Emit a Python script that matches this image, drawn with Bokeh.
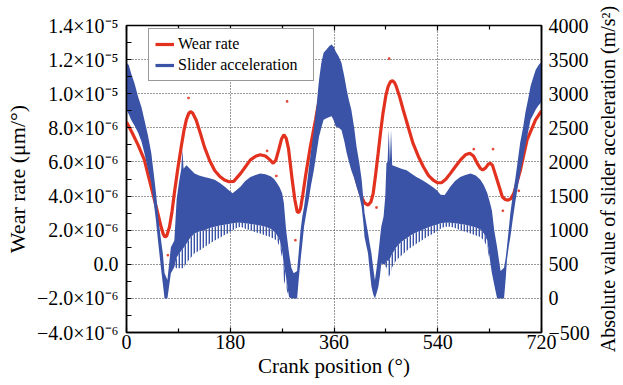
from bokeh.plotting import figure
from bokeh.layouts import row
from bokeh.models import (Range1d, LinearAxis, FixedTicker, CustomJSTickFormatter,
                          Legend, LegendItem, ColumnDataSource)
from bokeh.embed import file_html
from bokeh.resources import INLINE

FONT = "Liberation Serif"
RED = "#e2321f"
BLUE = "#3a53a6"

# ---------------- data ----------------
# wear rate (units of 1e-6 um/deg)
wear_crank = [0, 10, 20, 31, 40, 48.6, 55, 60, 64, 67, 70, 74.6, 79, 83, 89, 95, 100, 104, 108, 111,
              115, 121, 128, 135, 144, 153, 162, 170, 178, 186, 198, 207, 215, 224, 232, 241, 248,
              254.5, 259, 264, 269, 273, 277, 281, 287.5, 292, 296, 299, 302, 306, 310.5, 319, 328,
              332, 340, 350, 360, 368, 376, 387.5, 399, 407.7, 413, 419, 424, 428, 432, 436.6, 441,
              445, 450, 454, 458, 461.5, 465, 468, 474, 480, 497, 506, 515, 524, 532, 540, 546.5,
              554, 562, 571, 579.5, 588, 595.6, 602, 608.5, 614, 618, 623, 628, 631.5, 635, 643,
              652, 657, 662, 667, 672, 683.5, 695, 709.6, 720]
wear_e6 = [8.35, 7.7, 7.0, 6.12, 4.9, 3.76, 2.9, 2.2, 1.75, 1.6, 1.68, 2.2, 3.1, 4.16, 5.6, 6.9, 7.9,
           8.5, 8.85, 8.96, 8.85, 8.45, 7.7, 6.9, 6.1, 5.5, 5.15, 4.94, 4.84, 4.86, 5.33, 5.75, 6.12,
           6.33, 6.42, 6.35, 6.15, 5.92, 6.1, 6.7, 7.35, 7.6, 7.4, 6.8, 4.94, 3.8, 3.1, 3.02, 3.27,
           4.1, 5.14, 6.9, 8.47, 9.25, 10.0, 10.3, 9.9, 9.1, 8.08, 6.51, 4.94, 3.96, 3.6, 3.47, 3.65,
           4.16, 5.2, 6.51, 7.8, 8.86, 9.9, 10.43, 10.7, 10.76, 10.65, 10.43, 9.8, 9.06, 7.1, 6.35,
           5.72, 5.2, 4.94, 4.78, 4.78, 4.98, 5.33, 5.75, 6.12, 6.42, 6.51, 6.35, 5.92, 5.62, 5.53,
           5.65, 5.88, 5.92, 5.8, 4.94, 3.96, 3.8, 3.76, 3.85, 4.16, 5.53, 7.29, 8.47, 9.0]

# isolated wear-rate points
dots_crank = [107.6, 71.7, 278.7, 244, 260, 293, 455.7, 433.7, 602.5, 636, 653, 680.6]
dots_e6 = [9.75, 0.53, 9.55, 6.65, 5.18, 1.41, 12.06, 3.33, 6.75, 6.75, 3.14, 4.31]

# slider acceleration envelope (m/s^2): upper, dense-core lower, spike lower
acc_crank = [0, 4, 8, 14, 20, 26, 31, 37, 43, 47, 51, 54, 57, 60, 63, 66, 71, 77, 83, 87, 91, 95, 97,
             99, 104, 110, 118, 126, 135, 144, 153, 162, 170, 177, 184, 191, 198, 206, 215, 224, 232,
             241, 250, 256, 261, 266, 270, 273, 277, 282, 286, 290, 296, 299, 302, 305, 308, 312, 316,
             320, 325, 330, 334, 338, 342, 347, 352, 356, 360, 363, 368, 373, 378, 382, 386, 390, 395,
             399, 404, 408, 411, 413, 416, 419, 422, 425, 428, 431, 434, 437, 440, 442, 446, 449, 451,
             453, 455, 457, 459, 461, 468, 477, 486, 494, 503, 512, 521, 530, 538, 545, 552, 562, 570,
             579, 588, 597, 606, 614, 620, 626, 630, 634, 638, 643, 649, 655, 658, 660, 663, 666, 670,
             675, 679, 683, 688, 692, 697, 701, 706, 710, 715, 720]
acc_upper = [3450, 3420, 3300, 3150, 2960, 2800, 2620, 2400, 2130, 1850, 1560, 1300, 1050, 850, 660,
             370, 270, 750, 850, 1450, 1700, 1900, 2180, 1900, 1950, 1900, 1830, 1800, 1780, 1760,
             1740, 1690, 1640, 1590, 1540, 1590, 1640, 1720, 1780, 1810, 1830, 1820, 1790, 1750, 1690,
             1620, 1540, 1400, 1000, 660, 450, 370, 400, 700, 1000, 1200, 1340, 1600, 1880, 2150, 2470,
             2850, 3200, 3450, 3600, 3650, 3700, 3720, 3680, 3620, 3550, 3450, 3250, 3060, 2900, 2770,
             2500, 2230, 1980, 1740, 1450, 1250, 1100, 960, 800, 660, 450, 265, 450, 660, 900, 1050,
             1200, 1500, 1980, 2000, 2470, 2000, 2470, 1950, 1930, 1900, 1880, 1830, 1780, 1740, 1690,
             1640, 1590, 1520, 1515, 1640, 1720, 1780, 1810, 1830, 1800, 1740, 1660, 1540, 1420, 1290,
             1000, 750, 400, 450, 600, 750, 1000, 1250, 1500, 1780, 2030, 2280, 2500, 2720, 2930, 3110,
             3250, 3350, 3420, 3470]
acc_core_lower = [2760, 2700, 2620, 2530, 2430, 2300, 2130, 1900, 1690, 1420, 1150, 900, 660, 430,
                  220, 0, 0, 370, 460, 600, 650, 700, 720, 740, 800, 880, 950, 980, 1000, 1030, 1050,
                  1070, 1080, 1090, 1100, 1110, 1110, 1100, 1090, 1080, 1070, 1050, 1020, 980, 930, 850,
                  700, 500, 300, 20, 0, 0, 0, 300, 560, 800, 1050, 1250, 1440, 1650, 1880, 2150, 2370,
                  2500, 2620, 2640, 2660, 2670, 2600, 2520, 2500, 2470, 2300, 2130, 2000, 1880, 1760,
                  1640, 1500, 1340, 1100, 900, 780, 660, 400, 170, 60, 0, 80, 170, 350, 510, 500, 500,
                  550, 550, 550, 580, 620, 650, 750, 830, 880, 930, 970, 1000, 1030, 1060, 1080, 1100,
                  1110, 1110, 1100, 1090, 1080, 1060, 1040, 1010, 950, 850, 600, 370, 200, 0, 0, 0, 300,
                  560, 750, 900, 1150, 1440, 1640, 1830, 2050, 2230, 2450, 2620, 2700, 2770, 2830, 2880]
acc_lower = [2760, 2700, 2620, 2530, 2430, 2300, 2130, 1900, 1690, 1420, 1150, 900, 660, 430, 220, 0,
             0, 370, 460, 440, 440, 440, 440, 440, 520, 580, 660, 700, 750, 800, 850, 890, 930, 960,
             1000, 1030, 1050, 1020, 1000, 970, 950, 920, 900, 870, 850, 750, 600, 265, 150, 20, 0, 0,
             0, 300, 560, 800, 1050, 1250, 1440, 1650, 1880, 2150, 2370, 2500, 2620, 2640, 2660, 2670,
             2600, 2520, 2500, 2470, 2300, 2130, 2000, 1880, 1760, 1640, 1500, 1340, 1100, 900, 780,
             660, 400, 170, 60, 0, 80, 170, 350, 510, 500, 460, 460, 380, 310, 350, 400, 460, 560, 630,
             700, 750, 800, 850, 900, 940, 975, 1020, 1050, 1050, 1030, 1000, 975, 950, 920, 900, 850,
             750, 550, 370, 200, 0, 0, 0, 300, 560, 750, 900, 1150, 1440, 1640, 1830, 2050, 2230,
             2450, 2620, 2700, 2770, 2830, 2880]

wear_ticks = [-4e-6, -2e-6, 0.0, 2e-6, 4e-6, 6e-6, 8e-6, 1.0e-5, 1.2e-5, 1.4e-5]
wear_minor = [-3e-6, -1e-6, 1e-6, 3e-6, 5e-6, 7e-6, 9e-6, 1.1e-5, 1.3e-5]
wear_tick_labels = ["\u22124.0\u00d710\u207b\u2076", "\u22122.0\u00d710\u207b\u2076", "0.0",
                    "2.0\u00d710\u207b\u2076", "4.0\u00d710\u207b\u2076", "6.0\u00d710\u207b\u2076",
                    "8.0\u00d710\u207b\u2076", "1.0\u00d710\u207b\u2075", "1.2\u00d710\u207b\u2075",
                    "1.4\u00d710\u207b\u2075"]
acc_ticks = [-500, 0, 500, 1000, 1500, 2000, 2500, 3000, 3500, 4000]
acc_tick_labels = ["\u2212500", "0", "500", "1000", "1500", "2000", "2500", "3000", "3500", "4000"]
crank_ticks = [0, 180, 360, 540, 720]
crank_minor = [90, 270, 450, 630]
crank_tick_labels = ["0", "180", "360", "540", "720"]

# ---------------- figure ----------------
wear_src = ColumnDataSource(dict(x=wear_crank, y=[v * 1e-6 for v in wear_e6]))
dots_src = ColumnDataSource(dict(x=dots_crank, y=[v * 1e-6 for v in dots_e6]))
acc_src = ColumnDataSource(dict(x=acc_crank, up=acc_upper, core=acc_core_lower, low=acc_lower))

p = figure(width=593, height=385, output_backend="svg", toolbar_location=None,
           x_range=Range1d(0, 720), y_range=Range1d(-4e-6, 1.4e-5),
           min_border_left=126, min_border_right=52, min_border_top=25, min_border_bottom=53)
p.extra_y_ranges = {"acc": Range1d(-500, 4000)}
p.background_fill_color = "white"
p.border_fill_color = "white"
p.outline_line_color = "black"
p.outline_line_width = 1.5

def fmt(tvals, labs):
    return CustomJSTickFormatter(args=dict(tvals=tvals, labs=labs), code="""
        let best = 0;
        for (let i = 0; i < tvals.length; i++) {
            if (Math.abs(tvals[i] - tick) < Math.abs(tvals[best] - tick)) best = i;
        }
        return labs[best];
    """)

def style_axis(ax):
    ax.axis_line_color = "black"
    ax.axis_line_width = 1.5
    ax.major_tick_line_color = "black"
    ax.minor_tick_line_color = "black"
    ax.major_tick_line_width = 1.2
    ax.minor_tick_line_width = 1.2
    ax.major_tick_in = 5
    ax.major_tick_out = 0
    ax.minor_tick_in = 4
    ax.minor_tick_out = 0
    ax.major_label_text_font = FONT
    ax.major_label_text_font_size = "20px"
    ax.major_label_text_color = "black"
    ax.axis_label_text_font = FONT
    ax.axis_label_text_font_style = "normal"
    ax.axis_label_text_color = "black"

# bottom axis
xa = p.xaxis[0]
xa.ticker = FixedTicker(ticks=crank_ticks, minor_ticks=crank_minor)
xa.formatter = fmt(crank_ticks, crank_tick_labels)
style_axis(xa)
xa.major_label_standoff = 2
xa.axis_label = "Crank position (\u00b0)"
xa.axis_label_text_font_size = "21px"
xa.axis_label_standoff = 2

# left axis
ya = p.yaxis[0]
ya.ticker = FixedTicker(ticks=wear_ticks, minor_ticks=wear_minor)
ya.formatter = fmt(wear_ticks, wear_tick_labels)
style_axis(ya)
ya.minor_tick_in = 5
ya.major_label_standoff = 8
ya.axis_label = "Wear rate (\u03bcm/\u00b0)"
ya.axis_label_text_font_size = "22px"
ya.axis_label_standoff = 4

# top axis (ticks only, mirrored)
ta = LinearAxis(ticker=FixedTicker(ticks=crank_ticks, minor_ticks=crank_minor),
                formatter=fmt(crank_ticks, crank_tick_labels))
style_axis(ta)
ta.major_label_text_color = None
ta.major_label_text_font_size = "12px"
ta.major_label_standoff = 0
ta.axis_line_color = None
p.add_layout(ta, "above")

# right axis
ra = LinearAxis(y_range_name="acc", ticker=FixedTicker(ticks=acc_ticks, minor_ticks=[]),
                formatter=fmt(acc_ticks, acc_tick_labels))
style_axis(ra)
ra.major_tick_in = 0
ra.major_tick_out = 0
ra.major_label_standoff = 7
p.add_layout(ra, "right")

# grids
p.xgrid.ticker = FixedTicker(ticks=[180, 360, 540])
p.ygrid.ticker = FixedTicker(ticks=wear_ticks)
for g in (p.xgrid[0], p.ygrid[0]):
    g.grid_line_color = "#333333"
    g.grid_line_width = 1
    g.grid_line_dash = "1 2"

# wear rate (drawn under the acceleration band)
red_line = p.line("x", "y", source=wear_src, line_color=RED, line_width=3.2)
p.scatter("x", "y", source=dots_src, marker="square", size=1.6, color=RED, alpha=0.8)

# slider acceleration
p.varea(x="x", y1="core", y2="up", source=acc_src, fill_color=BLUE, y_range_name="acc")
p.varea(x="x", y1="low", y2="core", source=acc_src, fill_alpha=0, hatch_pattern="vertical_line",
        hatch_color=BLUE, hatch_scale=3, hatch_weight=1.8, y_range_name="acc")
# legend swatch for the acceleration series (not drawn in the frame)
blue_legend_line = p.line(x=[float("nan")], y=[float("nan")], line_color=BLUE, line_width=3.2,
                          y_range_name="acc")

legend = Legend(items=[LegendItem(label="Wear rate", renderers=[red_line]),
                       LegendItem(label="Slider acceleration", renderers=[blue_legend_line])],
                location=(22, 251), orientation="vertical")
legend.label_text_font = FONT
legend.label_text_font_size = "16px"
legend.label_text_color = "black"
legend.label_height = 18
legend.glyph_height = 18
legend.glyph_width = 19
legend.label_standoff = 4
legend.label_width = 129
legend.spacing = 3
legend.padding = 6
legend.margin = 0
legend.border_line_color = "#333333"
legend.border_line_width = 1.2
legend.background_fill_alpha = 1
p.add_layout(legend, "center")

# narrow strip carrying the right-hand axis title (reads bottom to top)
t = figure(width=30, height=385, output_backend="svg", toolbar_location=None,
           x_range=Range1d(0, 1), y_range=Range1d(0, 1),
           min_border_left=0, min_border_right=0, min_border_top=0, min_border_bottom=9)
t.xaxis.visible = False
t.xgrid.visible = False
t.ygrid.visible = False
t.outline_line_color = None
t.background_fill_color = "white"
t.border_fill_color = "white"
tl = t.yaxis[0]
tl.ticker = FixedTicker(ticks=[])
tl.axis_line_color = None
tl.major_tick_line_color = None
tl.minor_tick_line_color = None
tl.axis_label = "Absolute value of slider acceleration (m/s\u00b2)"
tl.axis_label_text_font = FONT
tl.axis_label_text_font_style = "normal"
tl.axis_label_text_font_size = "20px"
tl.axis_label_text_color = "black"
tl.axis_label_standoff = 0

open("out.html", "w").write(file_html(row(p, t, spacing=0), INLINE))
